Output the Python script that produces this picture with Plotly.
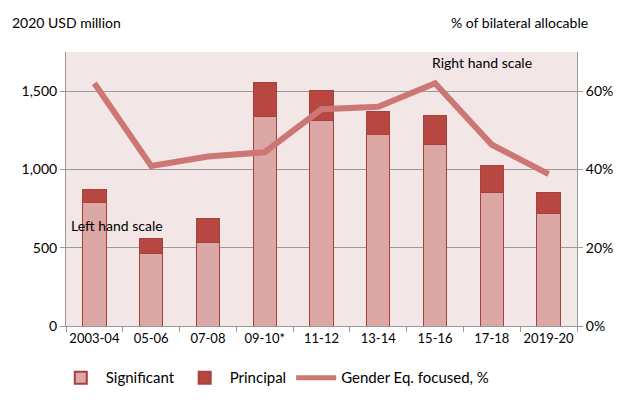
import plotly.graph_objects as go

years = ["2003-04", "05-06", "07-08", "09-10*", "11-12", "13-14", "15-16", "17-18", "2019-20"]
significant = [786, 464, 532, 1337, 1311, 1225, 1157, 850, 718]
principal_total = [871, 559, 686, 1557, 1502, 1373, 1347, 1025, 850]
principal = [t - s for t, s in zip(principal_total, significant)]
gender_pct = [62, 40.9, 43.3, 44.4, 55.4, 56, 62, 46.3, 38.8]

font_family = "Lato, 'Open Sans', sans-serif"

fig = go.Figure()

fig.add_trace(
    go.Bar(
        x=years, y=significant, name="Significant",
        marker=dict(color="#DBA8A5", line=dict(color="#A8403C", width=1)),
    )
)
fig.add_trace(
    go.Bar(
        x=years, y=principal, name="Principal",
        marker=dict(color="#B84641", line=dict(color="#A8403C", width=1)),
    )
)
fig.add_trace(
    go.Scatter(
        x=years, y=gender_pct, name="Gender Eq. focused, %", yaxis="y2",
        mode="lines", line=dict(color="#CD7775", width=6),
    )
)

fig.update_layout(
    width=630, height=405,
    barmode="stack", bargap=0.59,
    plot_bgcolor="#F2E6E6", paper_bgcolor="white",
    margin=dict(l=66, r=53, t=52, b=78),
    font=dict(family=font_family, size=14, color="black"),
    showlegend=True,
    legend=dict(
        orientation="h", x=-0.02, xanchor="left", y=-0.125, yanchor="top",
        font=dict(size=15), traceorder="normal",
        itemsizing="constant", itemwidth=40, tracegroupgap=0,
    ),
    xaxis=dict(
        type="category", tickangle=0, automargin=False,
        tickfont=dict(size=13),
        showline=True, linecolor="#999999", ticks="outside", tickcolor="#999999",
        ticklen=5, tickson="boundaries", showgrid=False, mirror=False,
    ),
    yaxis=dict(
        range=[0, 1750], tickvals=[0, 500, 1000, 1500],
        ticktext=["0", "500", "1,000", "1,500"], automargin=False,
        showgrid=True, gridcolor="#999999", gridwidth=1,
        showline=True, linecolor="#999999", ticks="outside", tickcolor="#999999",
        ticklen=5, zeroline=False,
    ),
    yaxis2=dict(
        range=[0, 70], tickvals=[0, 20, 40, 60],
        ticktext=["0%", "20%", "40%", "60%"], automargin=False,
        overlaying="y", side="right", showgrid=False,
        showline=True, linecolor="#999999", ticks="outside", tickcolor="#999999",
        ticklen=5, zeroline=False,
    ),
)

fig.add_annotation(text="2020 USD million", xref="paper", yref="paper",
                   x=-0.11, y=1.109, xanchor="left", yanchor="middle",
                   showarrow=False)
fig.add_annotation(text="% of bilateral allocable", xref="paper", yref="paper",
                   x=1.025, y=1.109, xanchor="right", yanchor="middle",
                   showarrow=False)
fig.add_annotation(text="Right hand scale", xref="x", yref="y2", x="15-16", y=67.3,
                   xshift=47, showarrow=False)
fig.add_annotation(text="Left hand scale", xref="x", yref="y", x="2003-04", y=645,
                   xanchor="left", xshift=-25, showarrow=False)

# drop the default page margin so the figure sits at the window's corner
fig.write_html(
    "out.html",
    config={"displayModeBar": False},
    post_script="document.body.style.margin='0';",
)
